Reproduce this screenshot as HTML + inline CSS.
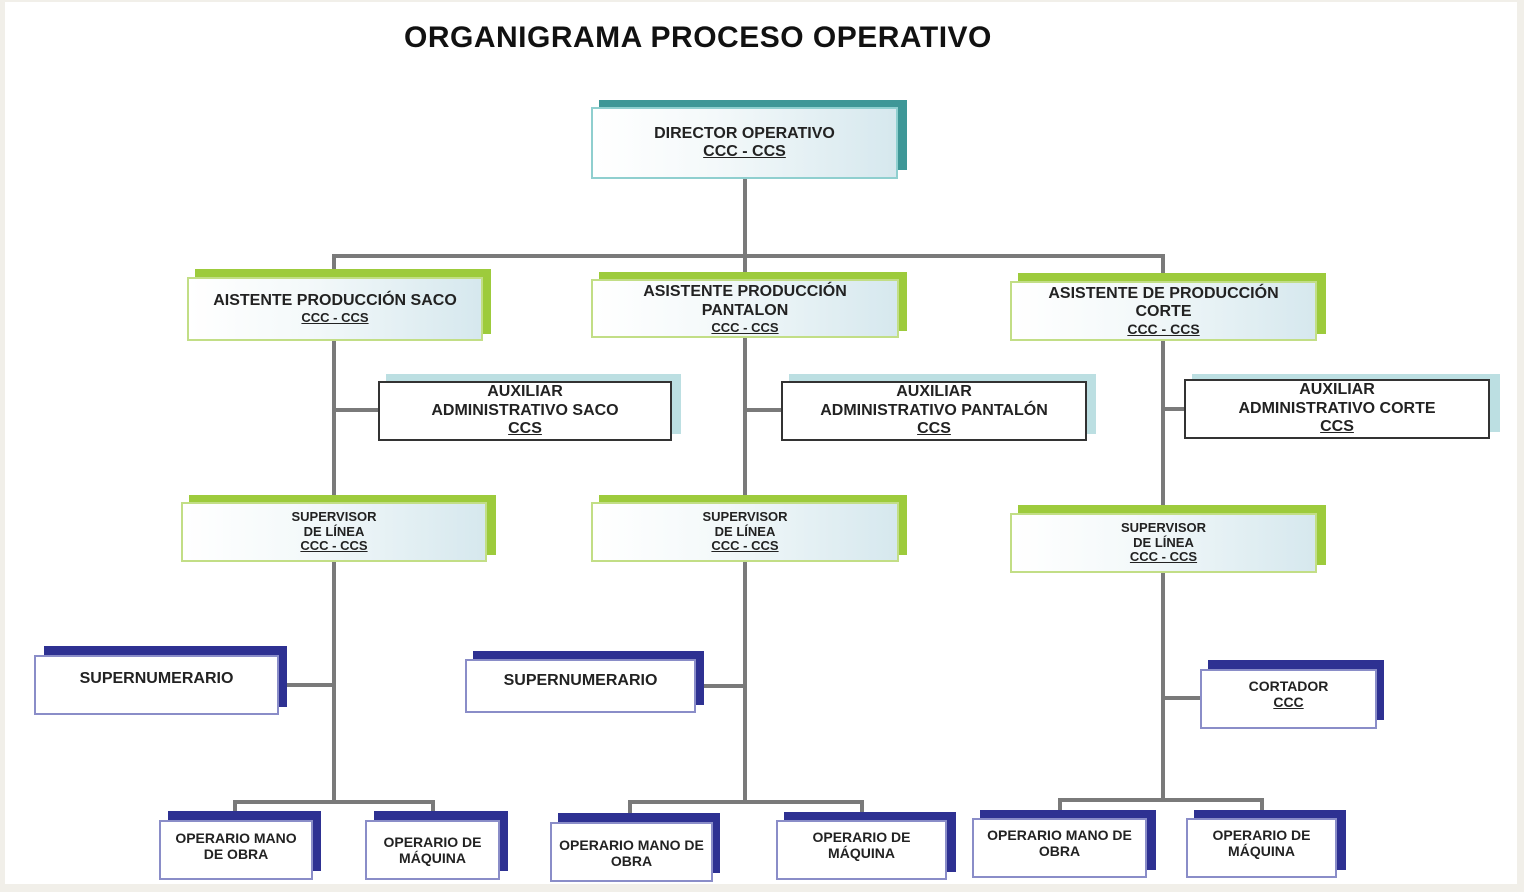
<!DOCTYPE html>
<html><head><meta charset="utf-8"><style>
body{margin:0;width:1524px;height:892px;background:#f1efe9;position:relative;overflow:hidden;font-family:"Liberation Sans",Arial,sans-serif}
.pg{position:absolute;left:5px;top:2px;width:1512px;height:882px;background:#fff}
.s{position:absolute}
.b{position:absolute;box-sizing:border-box;display:flex;flex-direction:column;align-items:center;justify-content:center;text-align:center;font-weight:bold;color:#222;line-height:1.15}
.g{background:linear-gradient(90deg,#fff 0%,#f4f9fa 40%,#d6e8ee 100%)}
.t{border:2px solid #8fcfcf}
.gr{border:2px solid #c2de86}
.k{border:2px solid #333;background:#fff}
.n{border:2px solid #8a8dc8;background:#fff}
.l{position:absolute;background:#7a7a7a}
u{text-decoration:underline}
</style></head><body>
<div class="pg"></div>
<div class="s" style="left:404px;top:21px;font-size:30px;font-weight:bold;color:#111;letter-spacing:0.5px">ORGANIGRAMA PROCESO OPERATIVO</div>

<!-- connectors -->
<div class="l" style="left:743px;top:179px;width:4px;height:625px"></div>
<div class="l" style="left:332px;top:254px;width:833px;height:4px"></div>
<div class="l" style="left:332px;top:254px;width:4px;height:550px"></div>
<div class="l" style="left:1161px;top:254px;width:4px;height:548px"></div>
<div class="l" style="left:334px;top:408px;width:44px;height:4px"></div>
<div class="l" style="left:745px;top:408px;width:36px;height:4px"></div>
<div class="l" style="left:1163px;top:407px;width:21px;height:4px"></div>
<div class="l" style="left:279px;top:683px;width:55px;height:4px"></div>
<div class="l" style="left:696px;top:684px;width:49px;height:4px"></div>
<div class="l" style="left:1163px;top:696px;width:37px;height:4px"></div>
<div class="l" style="left:233px;top:800px;width:202px;height:4px"></div>
<div class="l" style="left:233px;top:800px;width:4px;height:14px"></div>
<div class="l" style="left:431px;top:800px;width:4px;height:14px"></div>
<div class="l" style="left:628px;top:800px;width:236px;height:4px"></div>
<div class="l" style="left:628px;top:800px;width:4px;height:16px"></div>
<div class="l" style="left:860px;top:800px;width:4px;height:16px"></div>
<div class="l" style="left:1058px;top:798px;width:206px;height:4px"></div>
<div class="l" style="left:1058px;top:798px;width:4px;height:14px"></div>
<div class="l" style="left:1260px;top:798px;width:4px;height:14px"></div>

<!-- director -->
<div class="s" style="left:599px;top:100px;width:308px;height:70px;background:#3e9797"></div>
<div class="b g t" style="left:591px;top:107px;width:307px;height:72px;font-size:16px">DIRECTOR OPERATIVO<br><u>CCC - CCS</u></div>

<!-- assistants -->
<div class="s" style="left:195px;top:269px;width:296px;height:65px;background:#9dcb3c"></div>
<div class="b g gr" style="left:187px;top:277px;width:296px;height:64px;font-size:16px">AISTENTE PRODUCCIÓN SACO<span style="font-size:13px"><u>CCC - CCS</u></span></div>
<div class="s" style="left:599px;top:272px;width:308px;height:59px;background:#9dcb3c"></div>
<div class="b g gr" style="left:591px;top:279px;width:308px;height:59px;font-size:16px;line-height:1.2">ASISTENTE PRODUCCIÓN<br>PANTALON<span style="font-size:13px"><u>CCC - CCS</u></span></div>
<div class="s" style="left:1018px;top:273px;width:308px;height:61px;background:#9dcb3c"></div>
<div class="b g gr" style="left:1010px;top:281px;width:307px;height:60px;font-size:16px">ASISTENTE DE PRODUCCIÓN<br>CORTE<span style="font-size:14px"><u>CCC - CCS</u></span></div>

<!-- auxiliares -->
<div class="s" style="left:386px;top:374px;width:295px;height:60px;background:#bcdfe2"></div>
<div class="b k" style="left:378px;top:381px;width:294px;height:60px;font-size:16px">AUXILIAR<br>ADMINISTRATIVO SACO<br><u>CCS</u></div>
<div class="s" style="left:789px;top:374px;width:307px;height:60px;background:#bcdfe2"></div>
<div class="b k" style="left:781px;top:381px;width:306px;height:60px;font-size:16px">AUXILIAR<br>ADMINISTRATIVO PANTALÓN<br><u>CCS</u></div>
<div class="s" style="left:1192px;top:374px;width:308px;height:58px;background:#bcdfe2"></div>
<div class="b k" style="left:1184px;top:379px;width:306px;height:60px;font-size:16px">AUXILIAR<br>ADMINISTRATIVO CORTE<br><u>CCS</u></div>

<!-- supervisors -->
<div class="s" style="left:189px;top:495px;width:307px;height:60px;background:#9dcb3c"></div>
<div class="b g gr" style="left:181px;top:502px;width:306px;height:60px;font-size:13px">SUPERVISOR<br>DE LÍNEA<br><u>CCC - CCS</u></div>
<div class="s" style="left:599px;top:495px;width:308px;height:60px;background:#9dcb3c"></div>
<div class="b g gr" style="left:591px;top:502px;width:308px;height:60px;font-size:13px">SUPERVISOR<br>DE LÍNEA<br><u>CCC - CCS</u></div>
<div class="s" style="left:1018px;top:505px;width:308px;height:60px;background:#9dcb3c"></div>
<div class="b g gr" style="left:1010px;top:513px;width:307px;height:60px;font-size:13px">SUPERVISOR<br>DE LÍNEA<br><u>CCC - CCS</u></div>

<!-- supernumerarios / cortador -->
<div class="s" style="left:44px;top:646px;width:243px;height:61px;background:#2e3192"></div>
<div class="b n" style="left:34px;top:655px;width:245px;height:60px;font-size:16px;justify-content:flex-start;padding-top:13px">SUPERNUMERARIO</div>
<div class="s" style="left:473px;top:651px;width:231px;height:54px;background:#2e3192"></div>
<div class="b n" style="left:465px;top:659px;width:231px;height:54px;font-size:16px;justify-content:flex-start;padding-top:11px">SUPERNUMERARIO</div>
<div class="s" style="left:1208px;top:660px;width:176px;height:60px;background:#2e3192"></div>
<div class="b n" style="left:1200px;top:669px;width:177px;height:60px;font-size:14px;justify-content:flex-start;padding-top:7px">CORTADOR<br><u>CCC</u></div>

<!-- operarios -->
<div class="s" style="left:168px;top:811px;width:153px;height:60px;background:#2e3192"></div>
<div class="b n" style="left:159px;top:820px;width:154px;height:60px;font-size:14px;justify-content:flex-start;padding-top:8px">OPERARIO MANO<br>DE OBRA</div>
<div class="s" style="left:374px;top:811px;width:134px;height:60px;background:#2e3192"></div>
<div class="b n" style="left:365px;top:820px;width:135px;height:60px;font-size:14px">OPERARIO DE<br>MÁQUINA</div>
<div class="s" style="left:558px;top:813px;width:162px;height:60px;background:#2e3192"></div>
<div class="b n" style="left:550px;top:822px;width:163px;height:60px;font-size:14px;justify-content:flex-start;padding-top:13px">OPERARIO MANO DE<br>OBRA</div>
<div class="s" style="left:784px;top:812px;width:172px;height:60px;background:#2e3192"></div>
<div class="b n" style="left:776px;top:820px;width:171px;height:60px;font-size:14px;justify-content:flex-start;padding-top:7px">OPERARIO DE<br>MÁQUINA</div>
<div class="s" style="left:980px;top:810px;width:176px;height:60px;background:#2e3192"></div>
<div class="b n" style="left:972px;top:818px;width:175px;height:60px;font-size:14px;justify-content:flex-start;padding-top:7px">OPERARIO MANO DE<br>OBRA</div>
<div class="s" style="left:1194px;top:810px;width:152px;height:60px;background:#2e3192"></div>
<div class="b n" style="left:1186px;top:818px;width:151px;height:60px;font-size:14px;justify-content:flex-start;padding-top:7px">OPERARIO DE<br>MÁQUINA</div>
</body></html>
